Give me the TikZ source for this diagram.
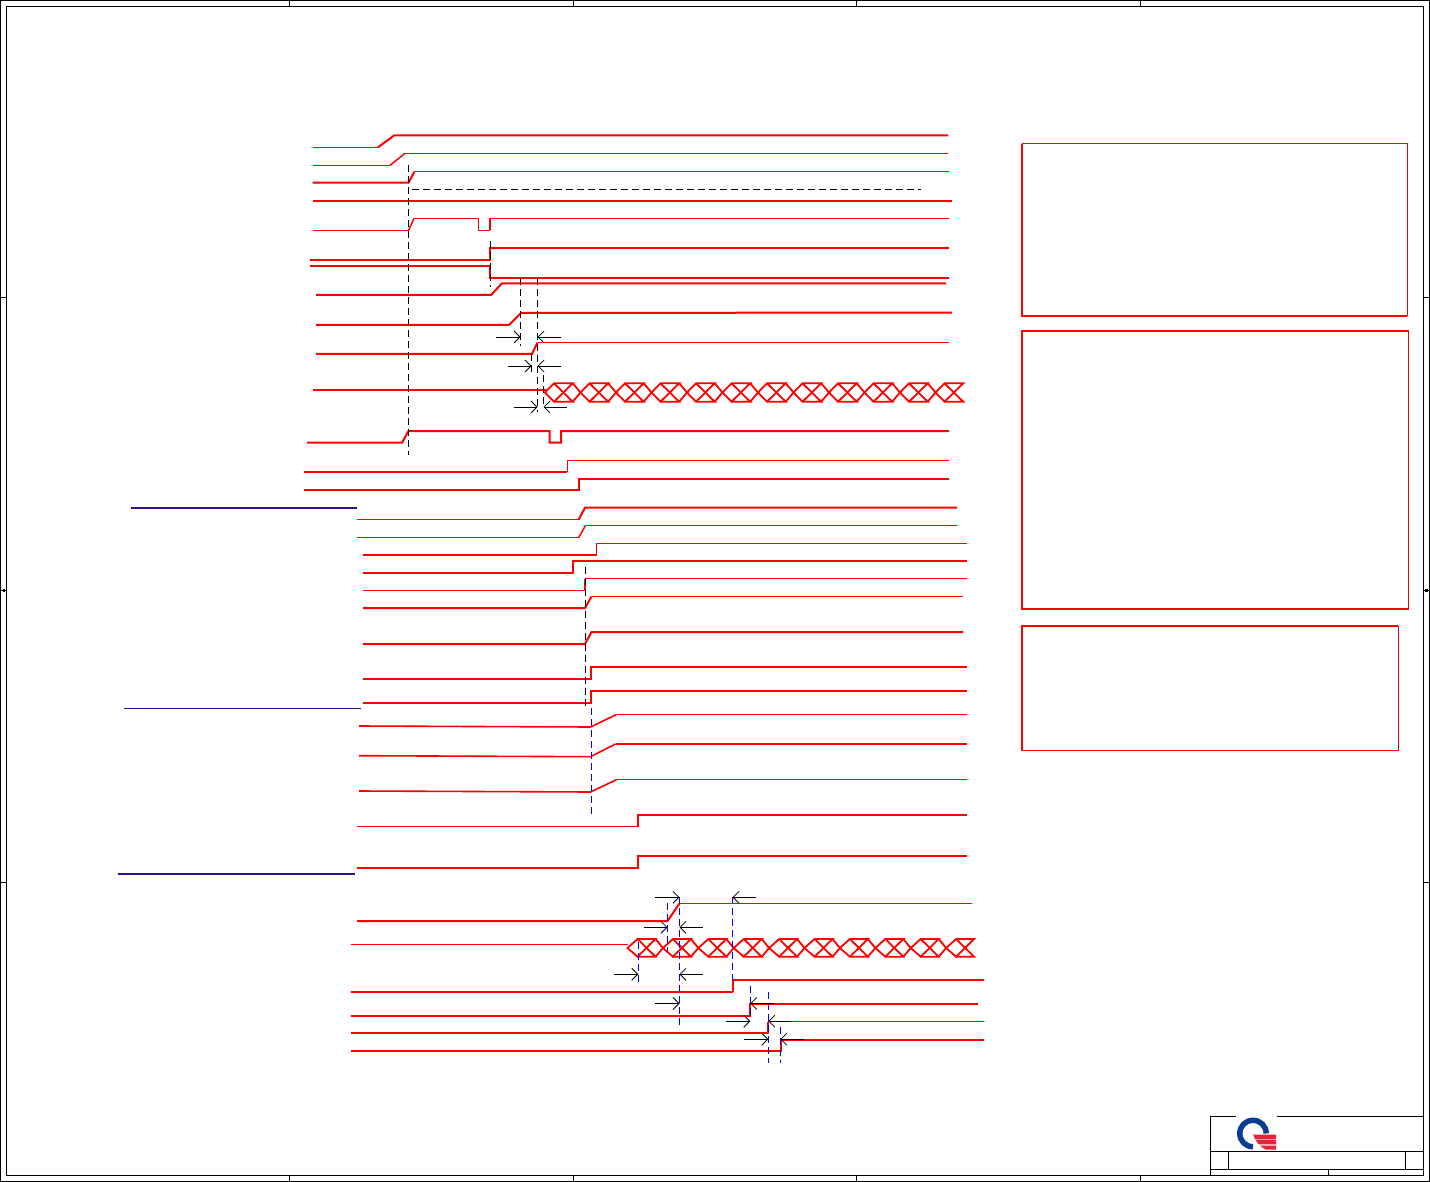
\documentclass[tikz,border=0pt]{standalone}
\usepackage{tikz}
\usetikzlibrary{arrows.meta}
\definecolor{sigred}{RGB}{255,0,0}
\definecolor{railpurple}{RGB}{58,10,140}
\definecolor{logoblue}{RGB}{10,61,145}
\definecolor{logored}{RGB}{224,40,56}
\tikzstyle{frame} = [black, line width=1pt]
\tikzstyle{trace} = [sigred, line width=2pt, line join=miter]
\tikzstyle{tracethin} = [sigred, line width=1pt, line join=miter]
\tikzstyle{hatch} = [sigred, line width=1.8pt]
\tikzstyle{rail} = [railpurple, line width=2pt]
\tikzstyle{notebox} = [sigred, line width=1pt]
\tikzstyle{noteedge} = [sigred, line width=2pt, line join=miter]
\tikzstyle{guide} = [black, line width=1pt, dash pattern=on 7pt off 4pt]
\tikzstyle{guideblue} = [blue, line width=1.2pt, dash pattern=on 7pt off 4pt]
\tikzstyle{dim} = [black, line width=0.8pt, ->, >={Straight Barb[length=6pt,width=12pt]}]

\begin{document}
\begin{tikzpicture}[x=1pt, y=-1pt]
    \useasboundingbox (0,0) rectangle (1430,1182);

    % sheet frame
    \draw [frame] (0.5,0.5) rectangle (1429.5,1181.5);
    \draw [frame] (6.5,6.5) rectangle (1423.5,1175.5);
    \foreach \tx in {289.5,573,856.5,1140} {
        \draw [frame] (\tx,0.5) -- (\tx,6.5);
        \draw [frame] (\tx,1175.5) -- (\tx,1181.5);
    }
    \foreach \ty in {298,590.5,882} {
        \draw [frame] (0.5,\ty) -- (6.5,\ty);
        \draw [frame] (1423.5,\ty) -- (1429.5,\ty);
    }
    \draw [black, line width=2.5pt] (2.5,590.5) -- (5,590.5);
    \draw [black, line width=2.5pt] (1425,590.5) -- (1427.5,590.5);

    % title block
    \draw [frame] (1236,1116.5) -- (1210.5,1116.5) -- (1210.5,1175.5);
    \draw [frame] (1277,1116.5) -- (1423.5,1116.5);
    \draw [frame] (1210.5,1151.5) -- (1423.5,1151.5);
    \draw [frame] (1210.5,1169) -- (1423.5,1169);
    \draw [frame] (1228.5,1151.5) -- (1228.5,1169);
    \draw [frame] (1405.5,1151.5) -- (1405.5,1169);
    \draw [frame] (1328.5,1169) -- (1328.5,1175.5);
    \draw [logoblue, line width=5.5pt] (1266.2,1133.5) .. controls (1266.2,1126) and (1260.5,1120.3) .. (1253,1120.3)
        .. controls (1245.5,1120.3) and (1239.8,1126) .. (1239.8,1133.5)
        .. controls (1239.8,1141) and (1245.5,1146.7) .. (1253,1146.7);
    \fill [logored] (1253,1134.5) -- (1276,1134.5) -- (1276,1149.7) -- (1266,1149.7)
        .. controls (1260,1147) and (1255,1141) .. cycle;
    \fill [white, opacity=0.6] (1254,1138.8) rectangle (1276,1140.3);
    \fill [white, opacity=0.6] (1257,1144) rectangle (1276,1145.5);

    % note boxes
    \draw [notebox] (1022,143.7) rectangle (1407,316);
    \draw [noteedge] (1022,143.7) -- (1022,316) -- (1407,316);
    \draw [notebox] (1022,331) rectangle (1408,609);
    \draw [noteedge] (1408,331) -- (1022,331) -- (1022,609) -- (1408,609);
    \draw [notebox] (1022,626) rectangle (1398,750.5);
    \draw [noteedge, line width=1.6pt] (1398,626) -- (1022,626) -- (1022,750.5);

    % supply rails
    \draw [rail] (131,507.7) -- (357,507.7);
    \draw [rail, line width=1pt] (124,708) -- (361,708);
    \draw [rail] (118,873.7) -- (355,873.7);

    % first group
    \draw [tracethin] (312.5,147.3) -- (378,147.3);
    \draw [trace] (378,147.3) -- (394,135.5) -- (948,135.5);
    \draw [tracethin] (312.5,165.3) -- (390,165.3);
    \draw [trace, line width=1.5pt] (390,165.3) -- (405,153.3);
    \draw [tracethin] (405,153.3) -- (948,153.3);
    \draw [trace] (312.5,182.7) -- (408.5,182.7) -- (414.5,171.5);
    \draw [tracethin] (414.5,171.5) -- (949,171.5);
    \draw [guide] (412,189.5) -- (921,189.5);
    \draw [trace] (312.5,201) -- (952,201);
    \draw [tracethin] (312.5,230.3) -- (408.5,230.3);
    \draw [trace, line width=1.5pt] (408.5,230.3) -- (414,218.5);
    \draw [tracethin] (414,218.5) -- (478.3,218.5) -- (478.3,230.5) -- (490,230.5);
    \draw [trace, line width=1.5pt] (490,230.5) -- (490,218.5);
    \draw [tracethin] (490,218.5) -- (949,218.5);
    \draw [trace] (310,260) -- (490,260) -- (490,247.7) -- (949,247.7);
    \draw [trace] (310,265.7) -- (490,265.7) -- (490,277.7) -- (949,277.7);
    \draw [trace] (316,295) -- (491,295) -- (502,283.3) -- (946,283.3);
    \draw [trace] (316,325) -- (509,325) -- (521,313) -- (952,312.5);
    \draw [trace] (316,354) -- (532,354) -- (537.5,342.5);
    \draw [tracethin] (537.5,342.5) -- (949,342.5);
    \draw [trace] (313,390) -- (546,390);
    \draw [trace] (307,442.7) -- (402,442.7) -- (408.5,431) -- (549.5,431) -- (549.5,442.7) -- (561,442.7) -- (561,431) -- (949,431);
    \draw [trace] (304,472) -- (567,472);
    \draw [tracethin] (567,472) -- (567,460.5) -- (949,460.5);
    \draw [trace] (304,490) -- (579,490) -- (579,478.5) -- (949,478.5);

    % data bus, first group
    \foreach \i in {0,...,11} {
        \pgfmathsetmacro{\ax}{545+35.5*\i}
        \draw [hatch] (\ax,392.5) -- (\ax+9,383.3) -- (\ax+27.7,383.3) -- (\ax+9,401.7) -- cycle;
        \draw [hatch] (\ax+9,383.3) -- (\ax+27.7,401.7) -- (\ax+9,401.7);
    }
    \foreach \i in {0,...,10} {
        \pgfmathsetmacro{\ax}{545+35.5*\i}
        \draw [hatch] (\ax+27.7,383.3) -- (\ax+35.5,392.5) -- (\ax+27.7,401.7);
    }

    % second group
    \draw [tracethin] (357,519.5) -- (578.7,519.5);
    \draw [trace] (578.7,519.5) -- (585,507.7) -- (957,507.7);
    \draw [tracethin] (357,537.5) -- (578.7,537.5);
    \draw [trace, line width=1.5pt] (578.7,537.5) -- (585.5,525.5);
    \draw [tracethin] (585.5,525.5) -- (957,525.5);
    \draw [trace] (363,555) -- (596.5,555);
    \draw [tracethin] (596.5,555) -- (596.5,543.5) -- (967,543.5);
    \draw [trace] (363,573) -- (573,573) -- (573,561) -- (967,561);
    \draw [tracethin] (363,590.5) -- (585,590.5);
    \draw [trace] (585,590.5) -- (585,578.5);
    \draw [tracethin] (585,578.5) -- (967,578.5);
    \draw [trace] (363,608) -- (585,608) -- (591.5,596.5);
    \draw [tracethin] (591.5,596.5) -- (963,596.5);
    \draw [trace] (363,644) -- (585,644) -- (591.5,632) -- (963,632);
    \draw [trace] (363,679) -- (590.5,679) -- (590.5,667) -- (967,667);
    \draw [trace] (363,703) -- (590.5,703) -- (590.5,691) -- (967,691);
    \draw [trace, line width=1.6pt] (359,726) -- (590.5,727) -- (616.5,714.5);
    \draw [tracethin] (616.5,714.5) -- (967,714.5);
    \draw [trace, line width=1.6pt] (359,755.7) -- (590.5,756.7) -- (615.5,744);
    \draw [trace] (615.5,744) -- (967,744);
    \draw [trace, line width=1.6pt] (359,791) -- (590.5,792) -- (617,779.5);
    \draw [tracethin] (617,779.5) -- (967,779.5);
    \draw [tracethin] (357,826.5) -- (638,826.5);
    \draw [trace] (638,826.5) -- (638,815) -- (967,815);
    \draw [trace] (357,868) -- (638,868) -- (638,856) -- (967,856);

    % third group
    \draw [trace] (357,921) -- (667.5,921) -- (679.5,903.5);
    \draw [tracethin] (679.5,903.5) -- (972,903.5);
    \draw [tracethin] (351,944.5) -- (628,944.5);
    \draw [trace] (351,992) -- (732.5,992);
    \draw [trace] (732.5,992) -- (732.5,980) -- (984,980);
    \draw [trace] (351,1016) -- (750,1016) -- (750,1004) -- (978,1004);
    \draw [trace] (351,1033) -- (768,1033) -- (768,1021.5);
    \draw [tracethin] (768,1021.5) -- (984,1021.5);
    \draw [trace] (351,1051) -- (780.5,1051) -- (780.5,1039.5) -- (984,1039.5);

    % data bus, third group
    \foreach \i in {0,...,9} {
        \pgfmathsetmacro{\ax}{627.5+35.4*\i}
        \draw [hatch] (\ax,948) -- (\ax+10,939) -- (\ax+28,939) -- (\ax+10,956.7) -- cycle;
        \draw [hatch] (\ax+10,939) -- (\ax+28,956.7) -- (\ax+10,956.7);
    }
    \foreach \i in {0,...,8} {
        \pgfmathsetmacro{\ax}{627.5+35.4*\i}
        \draw [hatch] (\ax+28,939) -- (\ax+35.4,948) -- (\ax+28,956.7);
    }

    % black guides
    \draw [guide] (408.5,165) -- (408.5,455);
    \draw [guide] (490,241.5) -- (490,287);
    \draw [guide] (520.5,278) -- (520.5,346);
    \draw [guide] (537.5,278) -- (537.5,412);
    \draw [guide] (531.5,354) -- (531.5,376);
    \draw [guide] (543.5,375) -- (543.5,405);
    \draw [guide] (585,566.5) -- (585,707);

    % blue guides
    \draw [guideblue] (591.3,708) -- (591.3,815);
    \draw [guideblue] (667.5,903) -- (667.5,951);
    \draw [guideblue] (679.5,897) -- (679.5,1029);
    \draw [guideblue] (732.5,897) -- (732.5,980);
    \draw [guideblue] (638.3,942) -- (638.3,986);
    \draw [guideblue] (750.3,986) -- (750.3,1016);
    \draw [guideblue] (768.3,992) -- (768.3,1062.5);
    \draw [guideblue] (780.3,1027) -- (780.3,1062.5);

    % timing arrows
    \draw [dim] (496,337) -- (520.5,337);
    \draw [dim] (561,337) -- (537.5,337);
    \draw [dim] (508,366) -- (531.5,366);
    \draw [dim] (561,366) -- (537.5,366);
    \draw [dim] (514,407) -- (537.5,407);
    \draw [dim] (567,407) -- (543.5,407);
    \draw [dim] (655,897.3) -- (679.5,897.3);
    \draw [dim] (756,897.3) -- (732.5,897.3);
    \draw [dim] (643.5,927.3) -- (667.5,927.3);
    \draw [dim] (703,927.3) -- (679.5,927.3);
    \draw [dim] (614,974.3) -- (638.3,974.3);
    \draw [dim] (703,974.3) -- (679.5,974.3);
    \draw [dim] (655,1003.5) -- (679.5,1003.5);
    \draw [dim] (726,1021.3) -- (750.3,1021.3);
    \draw [dim] (744,1039.3) -- (768.3,1039.3);
    \draw [dim] (774,1003.5) -- (750.3,1003.5);
    \draw [dim] (792,1021.3) -- (768.3,1021.3);
    \draw [dim] (804,1039.3) -- (780.3,1039.3);
\end{tikzpicture}
\end{document}
